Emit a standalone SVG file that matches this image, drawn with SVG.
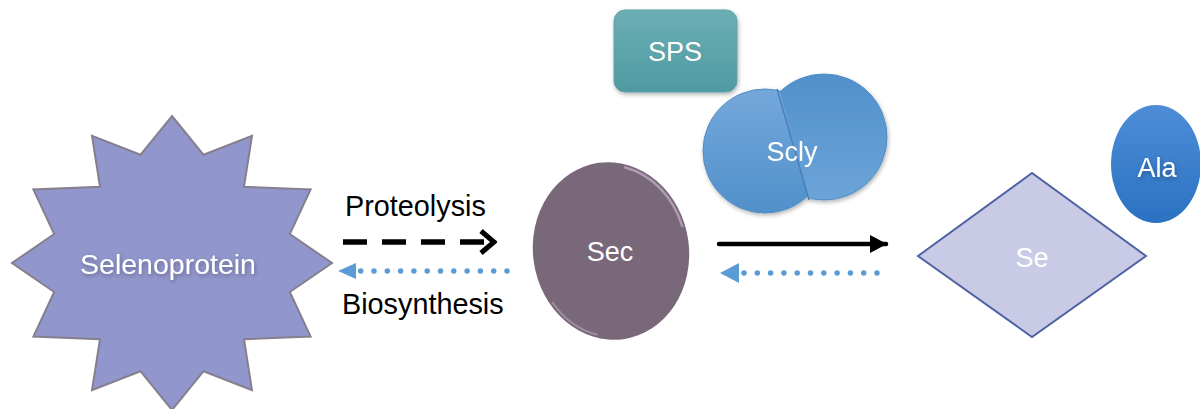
<svg xmlns="http://www.w3.org/2000/svg" width="1200" height="409" viewBox="0 0 1200 409">
<style>
.lbl{font-family:"Liberation Sans",Arial,sans-serif;font-size:27px;fill:#ffffff;text-anchor:middle;dominant-baseline:central}
.big{font-size:28.5px}
.cap{font-family:"Liberation Sans",Arial,sans-serif;font-size:28.8px;fill:#000000}
.dot{fill:none;stroke:#5b9bd5;stroke-width:5.5;stroke-linecap:round;stroke-dasharray:0 13.3}
</style>
<defs>
<linearGradient id="gSps" x1="0" y1="0" x2="0" y2="1"><stop offset="0" stop-color="#6caeb4"/><stop offset="1" stop-color="#4f9aa2"/></linearGradient>
<linearGradient id="gL" x1="0" y1="0" x2="0" y2="1"><stop offset="0" stop-color="#74a8da"/><stop offset="1" stop-color="#5190cb"/></linearGradient>
<linearGradient id="gR" x1="0" y1="0" x2="0" y2="1"><stop offset="0" stop-color="#5190cb"/><stop offset="1" stop-color="#6da4d8"/></linearGradient>
<linearGradient id="gAla" x1="0" y1="0" x2="0" y2="1"><stop offset="0" stop-color="#4d8dd6"/><stop offset="1" stop-color="#2a72c2"/></linearGradient>
<clipPath id="cRight"><polygon points="752,-11 838,305 1000,305 1000,-11"/></clipPath>
<filter id="sh" x="-20%" y="-20%" width="140%" height="140%"><feDropShadow dx="1" dy="2" stdDeviation="2" flood-color="#000" flood-opacity="0.3"/></filter>
<marker id="mChev" markerWidth="20" markerHeight="26" refX="17" refY="13" orient="auto" markerUnits="userSpaceOnUse"><path d="M4,2 L17,13 L4,24" fill="none" stroke="#000" stroke-width="5"/></marker>
<marker id="mTri" markerWidth="18" markerHeight="20" refX="16" refY="10" orient="auto" markerUnits="userSpaceOnUse"><path d="M0,1 L17,10 L0,19 Z" fill="#000"/></marker>
</defs>

<g id="selenoprotein">
<polygon points="172.0,116.0 203.6,154.8 252.0,135.7 244.0,186.8 310.6,189.5 289.8,234.0 332.0,263.0 289.8,292.0 310.6,336.5 244.0,339.2 252.0,390.3 203.6,371.2 172.0,410.0 140.4,371.2 92.0,390.3 100.0,339.2 33.4,336.5 54.2,292.0 12.0,263.0 54.2,234.0 33.4,189.5 100.0,186.8 92.0,135.7 140.4,154.8" fill="#9196cc" stroke="#857f8e" stroke-width="2"/>
<text class="lbl big" x="168" y="264" filter="url(#sh)">Selenoprotein</text>
</g>

<g id="sps">
<rect x="614" y="10" width="123" height="82" rx="11" fill="url(#gSps)" stroke="#5ea2a8" stroke-width="1" filter="url(#sh)"/>
<text class="lbl" x="675" y="52">SPS</text>
</g>

<g id="sec">
<g transform="translate(611 251) rotate(-8)">
<ellipse cx="0" cy="0" rx="78" ry="89" fill="#796879"/>
<path d="M25.6,-80.8 A75,86 0 0 1 73.9,-14.9" fill="none" stroke="#ad9cb0" stroke-width="2.5" stroke-linecap="round"/>
<path d="M-65,43 A75,86 0 0 0 -25.6,80.8" fill="none" stroke="#9d8ca0" stroke-width="2" stroke-linecap="round"/>
</g>
<text class="lbl" x="610" y="252">Sec</text>
</g>

<g id="scly" filter="url(#sh)">
<circle cx="765" cy="151" r="62" fill="url(#gL)" stroke="#4f8cc6" stroke-width="1"/>
<circle cx="824" cy="137" r="63" fill="url(#gR)" stroke="#4f8cc6" stroke-width="1" clip-path="url(#cRight)"/>
<line x1="777" y1="89" x2="809" y2="200" stroke="#4a80b8" stroke-width="1.5"/>
<text class="lbl" x="792" y="152">Scly</text>
</g>

<g id="se">
<polygon points="918,256 1032,173 1146,256 1032,337" fill="#c9cbe6" stroke="#4f63a3" stroke-width="2"/>
<text class="lbl" x="1032" y="258">Se</text>
</g>

<g id="ala">
<ellipse cx="1156" cy="164" rx="45" ry="59" fill="url(#gAla)"/>
<text class="lbl" x="1157" y="168" filter="url(#sh)">Ala</text>
</g>

<g id="connectors">
<line x1="343" y1="242" x2="494" y2="242" stroke="#000" stroke-width="5.5" stroke-dasharray="24 15" marker-end="url(#mChev)"/>
<line class="dot" x1="507" y1="271" x2="358" y2="271"/>
<polygon points="338,271 356,263 356,279" fill="#5b9bd5"/>
<line x1="719" y1="244" x2="886" y2="244" stroke="#000" stroke-width="4.5" stroke-linecap="round" marker-end="url(#mTri)"/>
<line class="dot" x1="877" y1="273" x2="743" y2="273"/>
<polygon points="720,273 739,263 739,283" fill="#5b9bd5"/>
</g>

<text class="cap" x="345" y="216">Proteolysis</text>
<text class="cap" x="342" y="314">Biosynthesis</text>
</svg>
